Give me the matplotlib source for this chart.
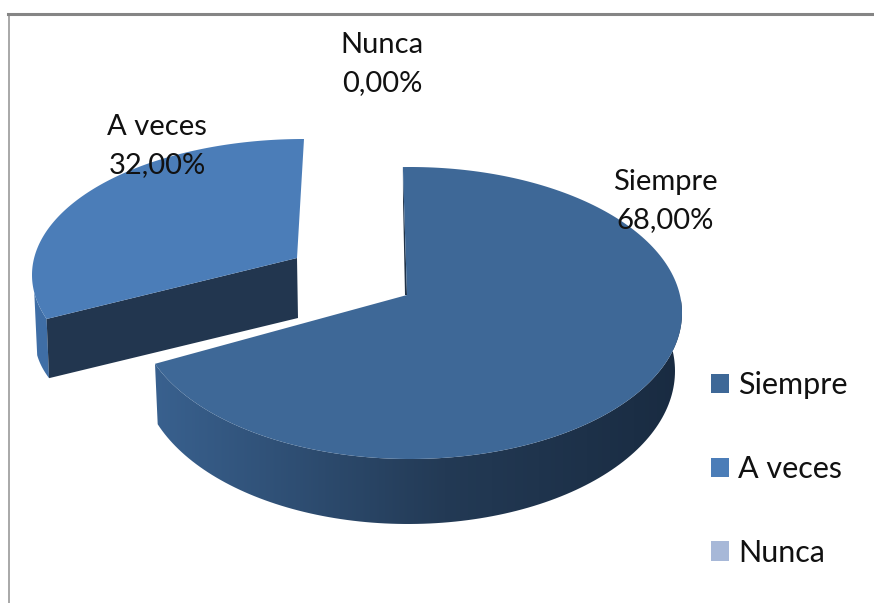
#!/usr/bin/env python
import numpy as np
from matplotlib import pyplot as plt
from matplotlib.colors import LinearSegmentedColormap
from matplotlib.patches import Patch, Polygon

labels = ['Siempre', 'A veces', 'Nunca']
values = [68.0, 32.0, 0.0]
colors = ['#3e6897', '#4b7db8', '#a7b8d8']

plt.rcParams['font.family'] = ['Lato', 'DejaVu Sans']
FONT = 21
LEGEND_FONT = 22


def skew(t, shift=0.0):
    # the chart's perspective squeezes the angles a little
    return t - np.radians(7) * np.sin(t) + np.radians(shift)


def arc(c, r, t0, t1, shift=0.0, n=200):
    t = skew(np.linspace(t0, t1, n), shift)
    return np.column_stack((c[0] + r[0] * np.sin(t), c[1] - r[1] * np.cos(t)))


fg = plt.figure(figsize=(8.74, 6.03), dpi=100)
ax = fg.add_axes([0, 0, 1, 1])

# angles from the values, clockwise from the top
ends = np.cumsum(values) / np.sum(values) * 2 * np.pi
starts = np.r_[0, ends[:-1]]

# slice 2 (exploded) goes first, the main one overlaps it
s, e = starts[1], ends[1]
top = arc((304, 275), (272, 136), s, e)
low = arc((297, 340), (262, 118), s, e)
apex, apex_low = (297, 258), (298, 318)

split = np.searchsorted(np.linspace(s, e, 200), np.radians(256))
wall = np.vstack((top[:split], low[:split][::-1]))
ax.add_patch(Polygon(wall, fc='#3f6ea6', ec='none', zorder=2))
inner = np.array([top[0], apex, apex_low, low[0]])
ax.add_patch(Polygon(inner, fc='#22364f', ec='none', zorder=3))
ax.add_patch(Polygon(np.vstack((top, [apex])), fc=colors[1], ec='none', zorder=4))

# main slice
s, e = starts[0], ends[0]
top = arc((410, 313), (272, 146), s, e, shift=-1.5)
low = arc((408, 371), (267, 153), s, e, shift=-1.5)
apex = (407, 295)

t = np.linspace(s, e, 200)
front = (skew(t) > np.pi / 2 - 0.15)
wall = np.vstack((top[front], low[front][::-1]))
cmap = LinearSegmentedColormap.from_list('side', [(0, '#39618f'), (0.55, '#233a55'), (1, '#192b41')])
grad = ax.imshow(np.linspace(0, 1, 256)[None, :], cmap=cmap, aspect='auto',
                 extent=(154, 682, 530, 300), zorder=5)
grad.set_clip_path(Polygon(wall, transform=ax.transData))
ax.add_patch(Polygon([top[0], apex, (405, 295), (403, 200)], fc='#1f3248', ec='none', zorder=5))
ax.add_patch(Polygon(np.vstack((top, [apex])), fc=colors[0], ec='none', zorder=6))

# data labels
pos = [(665, 201), (157, 146), (382, 64)]
for l, v, p in zip(labels, values, pos):
    ax.text(p[0], p[1], '%s\n%s%%' % (l, ('%.2f' % v).replace('.', ',')), ha='center', va='center',
            fontsize=FONT, color='#111111', linespacing=1.55, zorder=10)

handles = [Patch(fc=c, ec='none') for c in colors]
ax.legend(handles, labels, loc='upper left', bbox_to_anchor=(711 / 874, 1 - 371 / 603), frameon=False,
          fontsize=LEGEND_FONT, handlelength=0.59, handleheight=0.59, handletextpad=0.3,
          labelspacing=1.83, borderpad=0, borderaxespad=0, labelcolor='#111111')

# chart frame
ax.plot([9, 9], [14, 603], color='#9a9a9a', lw=1.2, zorder=1)
ax.plot([8, 874], [14, 14], color='#858585', lw=2.2, zorder=1)

ax.set_xlim(0, 874)
ax.set_ylim(603, 0)
ax.axis('off')
fg.savefig('out.png', dpi=100)
